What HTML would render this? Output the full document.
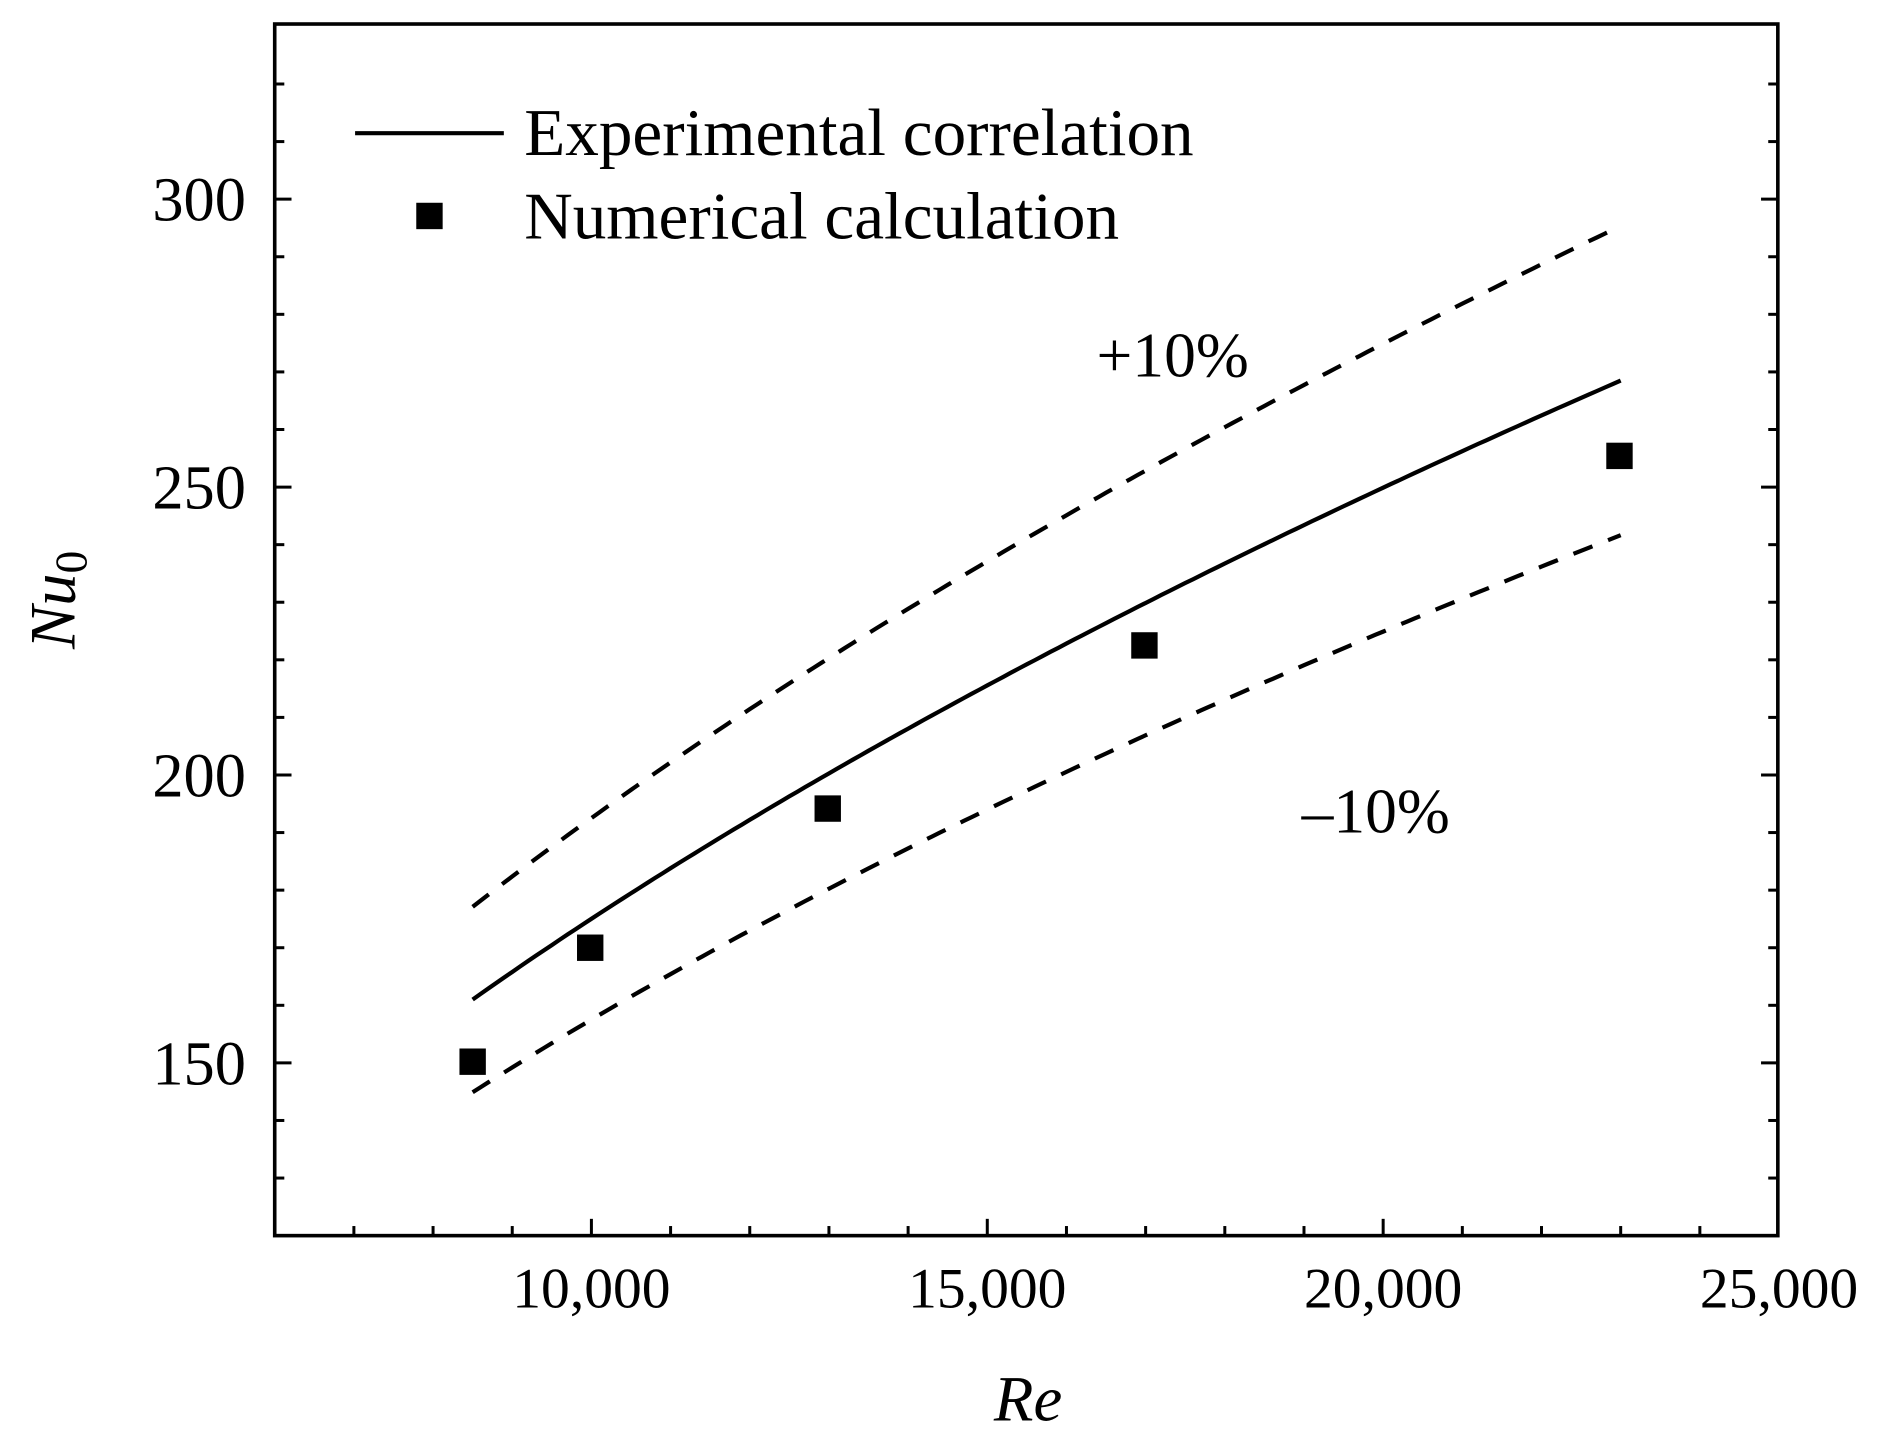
<!DOCTYPE html>
<html><head><meta charset="utf-8"><style>
html,body{margin:0;padding:0;background:#fff;}
svg{display:block;}
text{font-family:"Liberation Serif",serif;fill:#000;}
</style></head><body>
<svg id="s" width="1881" height="1442" viewBox="0 0 1568 1202" xmlns="http://www.w3.org/2000/svg"></svg>
<script>
const s=document.getElementById('s');
const L=229,R=1482,T=20,B=1030;
const X=v=>L+(v-6000)*0.066;
const Y=v=>886-(v-150)*4.8;
let h='';
h+=`<rect x="${L}" y="${T}" width="${R-L}" height="${B-T}" fill="none" stroke="#000" stroke-width="3"/>`;
for(let v=7000;v<25000;v+=1000){const x=X(v);const mj=v%5000==0;h+=`<line x1="${x}" y1="${B}" x2="${x}" y2="${B-(mj?14:8)}" stroke="#000" stroke-width="2.5"/>`;}
for(let v=130;v<330;v+=10){const y=Y(v);const mj=v%50==0;const l=mj?14:8;
h+=`<line x1="${L}" y1="${y}" x2="${L+l}" y2="${y}" stroke="#000" stroke-width="2.5"/>`;
h+=`<line x1="${R}" y1="${y}" x2="${R-l}" y2="${y}" stroke="#000" stroke-width="2.5"/>`;}
[10000,15000,20000,25000].forEach(v=>{h+=`<text x="${X(v)}" y="1090" font-size="48" text-anchor="middle">${(v/1000)+',000'}</text>`;});
[150,200,250,300].forEach(v=>{h+=`<text x="205" y="${Y(v)+18}" font-size="52" text-anchor="end">${v}</text>`;});
const m=Math.log(268.5/161)/Math.log(23000/8500), C=161/Math.pow(8500,m);
const f=r=>C*Math.pow(r,m);
function path(k){let p='';for(let r=8500;r<=23000;r+=100){p+=(p?'L':'M')+X(r).toFixed(1)+','+Y(f(r)*k).toFixed(1);}return p;}
h+=`<path d="${path(1)}" fill="none" stroke="#000" stroke-width="3.5"/>`;
h+=`<path d="${path(1.1)}" fill="none" stroke="#000" stroke-width="3.5" stroke-dasharray="17,14"/>`;
h+=`<path d="${path(0.9)}" fill="none" stroke="#000" stroke-width="3.5" stroke-dasharray="17,14"/>`;
[[394,885],[492,790],[690,674],[954,538],[1350,380]].forEach(([x,y])=>{h+=`<rect x="${x-11}" y="${y-11}" width="22" height="22" fill="#000"/>`;});
h+=`<line x1="296" y1="111" x2="420" y2="111" stroke="#000" stroke-width="3.5"/>`;
h+=`<text x="437" y="129" font-size="56">Experimental correlation</text>`;
h+=`<rect x="347" y="169" width="22" height="22" fill="#000"/>`;
h+=`<text x="437" y="199" font-size="56">Numerical calculation</text>`;
h+=`<text x="914" y="314" font-size="53">+10%</text>`;
h+=`<text x="1085" y="694" font-size="53">&#8211;10%</text>`;
h+=`<text x="857" y="1184" font-size="54" font-style="italic" text-anchor="middle">Re</text>`;
h+=`<text transform="translate(62,500) rotate(-90)" font-size="54" text-anchor="middle"><tspan font-style="italic">Nu</tspan><tspan font-size="38" dy="10">0</tspan></text>`;
s.innerHTML=h;
</script>
</body></html>
